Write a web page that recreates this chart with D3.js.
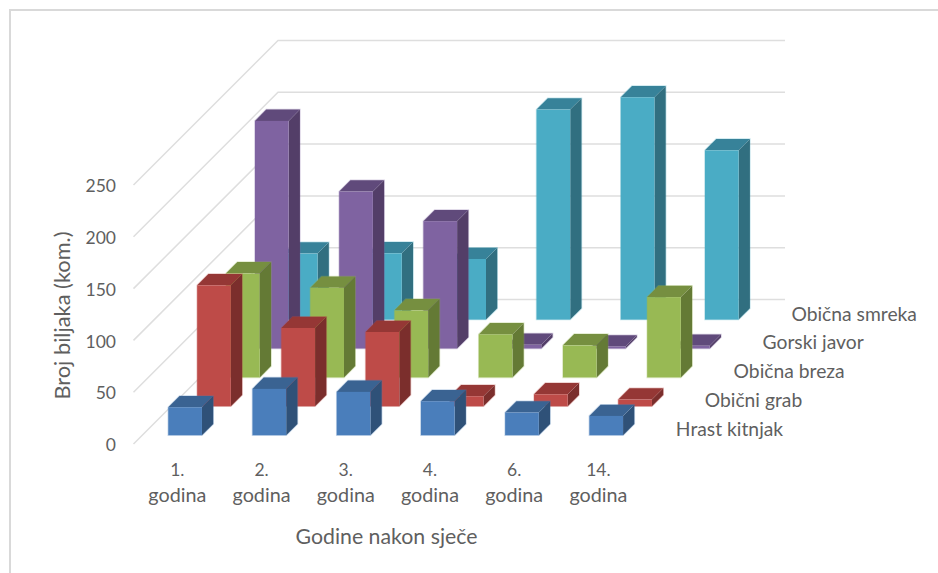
<!DOCTYPE html>
<html>
<head>
<meta charset="utf-8">
<script src="https://cdn.jsdelivr.net/npm/d3@7"></script>
<style>
  html, body { margin: 0; padding: 0; background: #fff; overflow: hidden; }
  text { font-family: Lato, "Open Sans", sans-serif; fill: #5f5f5f; }
</style>
</head>
<body>
<script>
const w = 938;
const h = 573;

const years = ["1.", "2.", "3.", "4.", "6.", "14."];
const species = ["Hrast kitnjak", "Obični grab", "Obična breza", "Gorski javor", "Obična smreka"];
const hrastKitnjak = [27, 44.7, 41.8, 32.8, 21.9, 18.6];
const obicniGrab = [116.8, 75.6, 71.7, 9.7, 11.6, 6.5];
const obicnaBreza = [100.4, 86.6, 64.7, 41.5, 30.9, 77.5];
const gorskiJavor = [219.7, 151.5, 122.9, 3.5, 2, 2.6];
const obicnaSmreka = [63.7, 64, 58.5, 202.7, 214.6, 163.4];
const yTicks = [0, 50, 100, 150, 200, 250];

const seriesValues = [hrastKitnjak, obicniGrab, obicnaBreza, gorskiJavor, obicnaSmreka];
const faceColors = [
  { front: "#4a7ebb", top: "#3a6392", side: "#2f5178" },
  { front: "#be4b48", top: "#953735", side: "#7b2e2c" },
  { front: "#98b954", top: "#768f40", side: "#647a35" },
  { front: "#7f63a1", top: "#604a7b", side: "#533e68" },
  { front: "#4aacc5", top: "#378299", side: "#316f80" }
];

const svg = d3.select("body").append("svg").attr("width", w).attr("height", h);

// frame, only top and left sit inside the picture
svg
  .append("path")
  .attr("d", `M${w},10H10V${h}`)
  .attr("fill", "none")
  .attr("stroke", "#d9d9d9")
  .attr("stroke-width", 2);

const wallX = 133.5;
const depth = 144.5;
const wallEnd = 785;

const xScale = d3
  .scaleBand()
  .domain(years)
  .range([wallX + 0.7, wallX + 506])
  .paddingInner(0.6)
  .paddingOuter(0.3);

// depth runs along a 45 degree line, so it moves x and y by the same amount
const zScale = d3
  .scaleBand()
  .domain(species)
  .range([0, depth])
  .paddingInner(0.61)
  .paddingOuter(0.305);

const yScale = d3.scaleLinear().domain([0, 250]).range([444, 185]);

// gridlines
svg
  .append("g")
  .selectAll("polyline")
  .data(yTicks)
  .enter()
  .append("polyline")
  .attr("points", (d) => {
    const y = yScale(d);
    return `${wallX},${y} ${wallX + depth},${y - depth} ${wallEnd},${y - depth}`;
  })
  .attr("fill", "none")
  .attr("stroke", "#dedede")
  .attr("stroke-width", 1.5);

// bars, back row first so the front rows cover it
const bars = svg.append("g");
d3.range(species.length - 1, -1, -1).forEach((s) => {
  const z = zScale(species[s]);
  const dz = zScale.bandwidth();
  const bw = xScale.bandwidth();
  const row = bars.append("g");

  years.forEach((year, i) => {
    const x0 = xScale(year) + z;
    const x1 = x0 + bw;
    const yBase = yScale(0) - z;
    const yTop = yBase - (yScale(0) - yScale(seriesValues[s][i]));
    const bar = row.append("g");

    // faint halo the bars have in the picture
    bar
      .append("path")
      .attr("d", `M${x0},${yBase}V${yTop}L${x0 + dz},${yTop - dz}H${x1 + dz}V${yBase - dz}L${x1},${yBase}Z`)
      .attr("fill", "none")
      .attr("stroke", faceColors[s].front)
      .attr("stroke-opacity", 0.3)
      .attr("stroke-width", 1.5);
    bar
      .append("path")
      .attr("d", `M${x1},${yTop}L${x1 + dz},${yTop - dz}V${yBase - dz}L${x1},${yBase}Z`)
      .attr("fill", faceColors[s].side);
    bar
      .append("path")
      .attr("d", `M${x0},${yTop}L${x0 + dz},${yTop - dz}H${x1 + dz}L${x1},${yTop}Z`)
      .attr("fill", faceColors[s].top);
    bar
      .append("rect")
      .attr("x", x0)
      .attr("y", yTop)
      .attr("width", bw)
      .attr("height", yBase - yTop)
      .attr("fill", faceColors[s].front);
  });
});

// y-axis
const yAxis = d3.axisLeft(yScale).tickValues(yTicks).tickSize(0).tickPadding(0);
svg
  .append("g")
  .attr("class", "y-axis")
  .attr("transform", "translate(116, 1)")
  .call(yAxis)
  .attr("font-family", null)
  .call((g) => g.select(".domain").remove())
  .selectAll("text")
  .attr("font-size", 17.5);

// x-axis, two line labels
const xAxis = d3.axisBottom(xScale).tickSize(0).tickFormat("");
const xGroup = svg
  .append("g")
  .attr("class", "x-axis")
  .attr("transform", "translate(1, 0)")
  .call(xAxis)
  .attr("font-family", null)
  .call((g) => g.select(".domain").remove());
xGroup
  .selectAll(".tick text")
  .data(years)
  .attr("y", 0)
  .attr("dy", null)
  .each(function (d) {
    const label = d3.select(this);
    label.append("tspan").attr("x", 0).attr("y", 476).attr("font-size", 17.5).text(d);
    label.append("tspan").attr("x", 0).attr("y", 501.5).attr("font-size", 19.8).text("godina");
  });

// series names along the right side of the floor
svg
  .append("g")
  .selectAll("text")
  .data(species)
  .enter()
  .append("text")
  .attr("x", (d) => xScale.range()[1] + zScale(d) + 27.5)
  .attr("y", (d) => yScale(0) - zScale(d) + 1)
  .attr("font-size", 19.3)
  .text((d) => d);

// axis titles
svg
  .append("text")
  .attr("x", 386.5)
  .attr("y", 544)
  .attr("text-anchor", "middle")
  .attr("font-size", 21.3)
  .text("Godine nakon sječe");
svg
  .append("text")
  .attr("transform", "translate(70, 315.5) rotate(-90)")
  .attr("text-anchor", "middle")
  .attr("font-size", 21.8)
  .text("Broj biljaka (kom.)");
</script>
</body>
</html>
